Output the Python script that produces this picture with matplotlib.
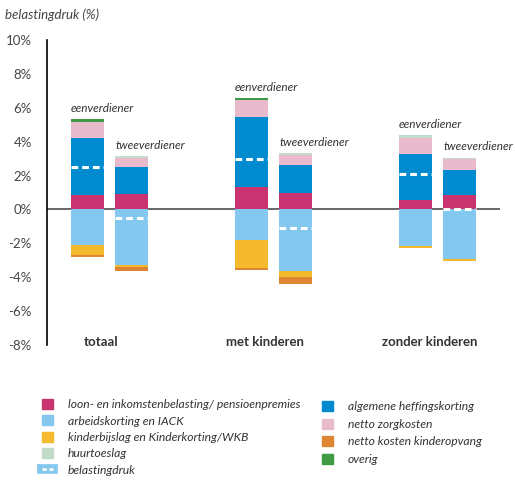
import numpy as np
import matplotlib.pyplot as plt
from matplotlib.patches import Patch
from matplotlib.lines import Line2D

plt.rcParams['font.family'] = ['Lato', 'DejaVu Sans']

groepen = ['totaal', 'met kinderen', 'zonder kinderen']
huishoudens = ['eenverdiener', 'tweeverdiener']

# volgorde: totaal een/twee, met kinderen een/twee, zonder kinderen een/twee
loon = [0.84, 0.89, 1.32, 1.00, 0.53, 0.84]
heffingskorting = [3.35, 1.61, 4.13, 1.61, 2.77, 1.46]
zorgkosten = [1.00, 0.51, 0.99, 0.59, 0.89, 0.65]
huurtoeslag = [0.0, 0.12, 0.0, 0.12, 0.18, 0.10]
overig = [0.12, 0.0, 0.12, 0.0, 0.0, 0.0]
arbeidskorting = [-2.07, -3.25, -1.83, -3.64, -2.18, -2.95]
kinderbijslag = [-0.63, -0.16, -1.64, -0.35, -0.10, -0.10]
kinderopvang = [-0.12, -0.24, -0.12, -0.41, 0.0, 0.0]
belastingdruk = [2.5, -0.5, 3.0, -1.1, 2.1, 0.0]

kleuren = {
    'loon': '#c9336f',
    'arbeid': '#85c8ef',
    'kinder': '#f4b92c',
    'huur': '#c3dcc9',
    'heffing': '#008bd0',
    'zorg': '#e8bacb',
    'opvang': '#de8631',
    'overig': '#3e9b44',
}

fig = plt.figure(figsize=(5.15, 4.82), dpi=100)
ax = fig.add_axes([47 / 515, 1 - 345 / 482, 453 / 515, 305 / 482])

breedte = 0.2
offset = 0.134
x = []
for g in range(len(groepen)):
    x += [g - offset, g + offset]
x = np.array(x)

# positieve delen
boven = np.zeros(len(x))
for waarden, kl in [(loon, 'loon'), (heffingskorting, 'heffing'), (zorgkosten, 'zorg'),
                    (huurtoeslag, 'huur'), (overig, 'overig')]:
    w = np.array(waarden)
    ax.bar(x, w, breedte, bottom=boven, color=kleuren[kl], zorder=3)
    boven += w

# negatieve delen
onder = np.zeros(len(x))
for waarden, kl in [(arbeidskorting, 'arbeid'), (kinderbijslag, 'kinder'), (kinderopvang, 'opvang')]:
    w = np.array(waarden)
    ax.bar(x, w, breedte, bottom=onder, color=kleuren[kl], zorder=3)
    onder += w

# belastingdruk als witte stippellijn
for xi, b in zip(x, belastingdruk):
    ax.plot([xi - breedte / 2, xi + breedte / 2], [b, b], color='white', lw=2.2,
            dashes=(2.2, 1.3), zorder=4)

# labels boven de staven
for i, xi in enumerate(x):
    ax.annotate(huishoudens[i % 2], xy=(xi - breedte / 2, boven[i]), xytext=(0, 4),
                textcoords='offset points', ha='left', va='bottom',
                fontsize=8.5, style='italic', color='#333333')

ax.axhline(0, color='#666666', lw=1.4, zorder=1)

for g, naam in enumerate(groepen):
    ax.text(g - 0.05, -7.8, naam, ha='center', va='center', fontsize=9.5,
            fontweight='bold', color='#333333')

ax.set_xlim(-0.381, 2.381)
ax.set_ylim(-8, 10)
ax.set_yticks(np.arange(-8, 11, 2))
ax.set_yticklabels([f'{v}%' for v in range(-8, 11, 2)], fontsize=9.5, color='#444444')
ax.tick_params(axis='y', length=0, pad=11)
ax.set_xticks([])
for s in ['top', 'right', 'bottom']:
    ax.spines[s].set_visible(False)
ax.spines['left'].set_color('black')
ax.spines['left'].set_linewidth(1.2)

fig.text(5 / 515, 1 - 15 / 482, 'belastingdruk (%)', fontsize=9.5, style='italic',
         color='#444444', va='center')

# legenda
druk_handle = (Line2D([], [], color=kleuren['arbeid'], lw=7),
               Line2D([], [], color='white', lw=2, dashes=(1.5, 1.0)))
links = [Patch(color=kleuren['loon']), Patch(color=kleuren['arbeid']),
         Patch(color=kleuren['kinder']), Patch(color=kleuren['huur']), druk_handle]
links_tekst = ['loon- en inkomstenbelasting/ pensioenpremies', 'arbeidskorting en IACK',
               'kinderbijslag en Kinderkorting/WKB', 'huurtoeslag', 'belastingdruk']
rechts = [Patch(color=kleuren['heffing']), Patch(color=kleuren['zorg']),
          Patch(color=kleuren['opvang']), Patch(color=kleuren['overig'])]
rechts_tekst = ['algemene heffingskorting', 'netto zorgkosten',
                'netto kosten kinderopvang', 'overig']

opties = dict(loc='upper left', frameon=False, borderpad=0, borderaxespad=0,
              handlelength=0.9, handleheight=0.9, handletextpad=1.2,
              prop={'size': 8.75, 'style': 'italic'}, labelcolor='#333333')
fig.legend(links, links_tekst, bbox_to_anchor=(42 / 515, 1 - 399 / 482),
           labelspacing=0.42, **opties)
fig.legend(rechts, rechts_tekst, bbox_to_anchor=(322 / 515, 1 - 401 / 482),
           labelspacing=0.52, **opties)

fig.savefig('out.png', dpi=100)
